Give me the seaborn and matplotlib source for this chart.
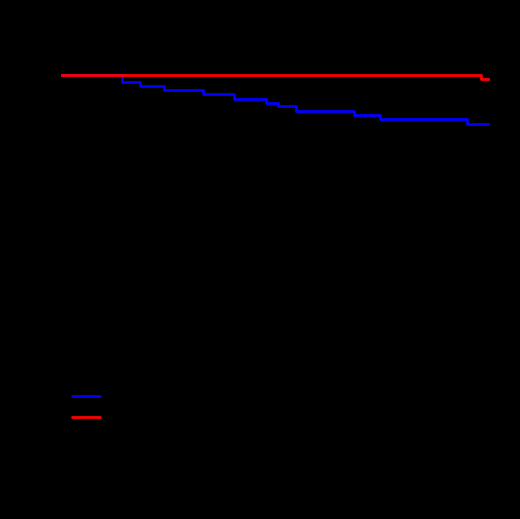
import matplotlib
matplotlib.use("Agg")
import matplotlib.pyplot as plt
import seaborn as sns
import pandas as pd

sns.set_style("white")
plt.rcParams['font.family'] = ['DejaVu Sans']

blue_t = [0, 14.4, 18.6, 24.2, 33.3, 40.5, 47.9, 50.7, 54.9, 68.4, 74.4, 94.7, 99.8]
blue_s = [1.0, 0.982, 0.972, 0.962, 0.952, 0.939, 0.929, 0.922, 0.909, 0.899, 0.889, 0.876, 0.876]
red_t = [0, 97.9, 99.8]
red_s = [1.0, 0.990, 0.990]

df = pd.concat([
    pd.DataFrame({"time": blue_t, "survival": blue_s, "group": "Group 1"}),
    pd.DataFrame({"time": red_t, "survival": red_s, "group": "Group 2"}),
])

fig = plt.figure(figsize=(5.2, 5.19), dpi=100, facecolor="black")
ax = fig.add_axes([0.115, 0.094, 0.827, 0.8])
ax.set_facecolor("black")
sns.lineplot(data=df, x="time", y="survival", hue="group",
             palette={"Group 1": "blue", "Group 2": "red"},
             drawstyle="steps-post", linewidth=2, ax=ax)
ax.set_xlim(0, 100)
ax.set_ylim(0, 1.05)
ax.set_xlabel("Time", color="black")
ax.set_ylabel("Survival probability", color="black")
ax.tick_params(colors="black")
for s in ax.spines.values():
    s.set_color("black")
leg = ax.legend(loc="lower left", frameon=False, bbox_to_anchor=(0.0, 0.08))
for t in leg.get_texts():
    t.set_color("black")
fig.savefig("out.png", dpi=100, facecolor="black")
